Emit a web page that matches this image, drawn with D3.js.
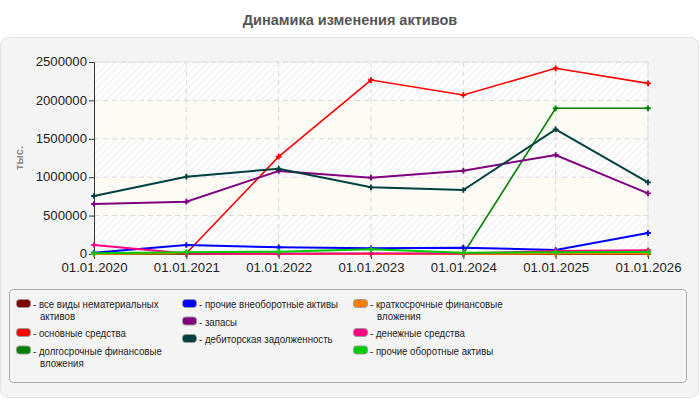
<!DOCTYPE html>
<html>
<head>
<meta charset="utf-8">
<script src="https://cdn.jsdelivr.net/npm/d3@7"></script>
<style>
    body{ margin: 0; background: #fff; }
    svg text{ font-family: "Liberation Sans", Arial, sans-serif; }
</style>
</head>
<body>
<svg id="chart" width="700" height="400"></svg>
<script>
// dates on x axis
const dates = ["01.01.2020", "01.01.2021", "01.01.2022", "01.01.2023", "01.01.2024", "01.01.2025", "01.01.2026"];
const yTicks = [0, 500000, 1000000, 1500000, 2000000, 2500000];

// series (thousands)
const intangible = [0, 0, 0, 0, 0, 0, 0];
const fixedAssets = [15000, 10000, 1267000, 2265000, 2070000, 2418000, 2222000];
const longInvest = [5000, 5000, 5000, 5000, 5000, 1897000, 1897000];
const otherNonCurrent = [17000, 117000, 87000, 74000, 82000, 52000, 273000];
const inventory = [651000, 681000, 1081000, 994000, 1085000, 1289000, 790000];
const receivables = [755000, 1007000, 1111000, 868000, 833000, 1623000, 933000];
const shortInvest = [0, 10000, 0, 0, 0, 5000, 5000];
const cash = [117000, 5000, 3000, 5000, 5000, 39000, 48000];
const otherCurrent = [10000, 22000, 30000, 61000, 15000, 22000, 25000];

const seriesNames = [
    "все виды нематериальных активов",
    "основные средства",
    "долгосрочные финансовые вложения",
    "прочие внеоборотные активы",
    "запасы",
    "дебиторская задолженность",
    "краткосрочные финансовые вложения",
    "денежные средства",
    "прочие оборотные активы"
];
const seriesColors = ["#800000", "#ff0000", "#008000", "#0000ff", "#800080", "#004040", "#ff8000", "#ff0080", "#00cc00"];
const seriesValues = [intangible, fixedAssets, longInvest, otherNonCurrent, inventory, receivables, shortInvest, cash, otherCurrent];

const svg = d3.select("#chart");
const margin = {left: 94, right: 52, top: 62, bottom: 146};
const W = 700, H = 400;
const plotW = W - margin.left - margin.right;
const plotH = H - margin.top - margin.bottom;

// title
svg.append("text").attr("x", 350).attr("y", 25).attr("text-anchor", "middle")
    .attr("font-size", 14.5).attr("font-weight", "bold").attr("fill", "#555")
    .text("Динамика изменения активов");

// outer panel
svg.append("rect").attr("x", 0.5).attr("y", 37.5).attr("width", 698).attr("height", 360)
    .attr("rx", 8).attr("fill", "#f4f4f4").attr("stroke", "#e2e2e2");

const defs = svg.append("defs");
const pat = defs.append("pattern").attr("id", "hatch").attr("patternUnits", "userSpaceOnUse")
    .attr("width", 5).attr("height", 5).attr("patternTransform", "rotate(45)");
pat.append("rect").attr("width", 5).attr("height", 5).attr("fill", "#ffffff");
pat.append("line").attr("x1", 0).attr("y1", 0).attr("x2", 0).attr("y2", 5)
    .attr("stroke", "#e6e6e6").attr("stroke-width", 1.5);

const x = d3.scalePoint().domain(dates).range([0, plotW]);
const y = d3.scaleLinear().domain([0, 2500000]).range([plotH, 0]);

const g = svg.append("g").attr("transform", `translate(${margin.left},${margin.top})`);

// alternating bands
d3.pairs(yTicks).forEach(([a, b], i) => {
    g.append("rect").attr("x", 0).attr("width", plotW)
        .attr("y", y(b)).attr("height", y(a) - y(b))
        .attr("fill", i % 2 === 0 ? "url(#hatch)" : "#fcfcf5");
});

// grid
g.append("g").selectAll("line").data(yTicks.slice(1)).join("line")
    .attr("x1", 0).attr("x2", plotW).attr("y1", d => y(d)).attr("y2", d => y(d))
    .attr("stroke", "#d8d8d8").attr("stroke-dasharray", "5,4");
g.append("g").selectAll("line").data(dates.slice(1)).join("line")
    .attr("x1", d => x(d)).attr("x2", d => x(d)).attr("y1", 0).attr("y2", plotH)
    .attr("stroke", "#d8d8d8").attr("stroke-dasharray", "5,4");
g.append("line").attr("x1", plotW).attr("x2", plotW).attr("y1", 0).attr("y2", plotH)
    .attr("stroke", "#e2e2e2");
g.append("line").attr("x1", 0).attr("x2", plotW).attr("y1", 0).attr("y2", 0)
    .attr("stroke", "#e2e2e2");

// axes
const yAxis = g.append("g").call(d3.axisLeft(y).tickValues(yTicks).tickSize(5).tickFormat(d3.format("d")));
const xAxis = g.append("g").attr("transform", `translate(0,${plotH})`)
    .call(d3.axisBottom(x).tickSize(5));
[yAxis, xAxis].forEach(ax => {
    ax.select(".domain").attr("stroke", "#333");
    ax.selectAll(".tick line").attr("stroke", "#333");
    ax.selectAll(".tick text").attr("font-size", 13.2).attr("fill", "#222")
        .attr("font-family", "Liberation Sans, Arial, sans-serif");
});
yAxis.selectAll(".tick text").attr("x", -7).attr("dy", "0.28em");
xAxis.selectAll(".tick text").attr("y", 9);

svg.append("text").attr("transform", "translate(23,158) rotate(-90)")
    .attr("text-anchor", "middle").attr("font-size", 11).attr("font-weight", "bold")
    .attr("fill", "#888").text("тыс.");

// lines
const line = d3.line().x((d, i) => x(dates[i])).y(d => y(d));
seriesValues.forEach((vals, si) => {
    g.append("path").datum(vals).attr("d", line).attr("fill", "none")
        .attr("stroke", seriesColors[si]).attr("stroke-width", si === 1 || si === 2 ? 1.6 : 2);
    g.append("g").selectAll("path").data(vals).join("path")
        .attr("transform", (d, i) => `translate(${x(dates[i])},${y(d)})`)
        .attr("d", d3.symbol(d3.symbolCross, 18))
        .attr("fill", seriesColors[si]);
});

// legend
svg.append("rect").attr("x", 9.5).attr("y", 289.5).attr("width", 677).attr("height", 93)
    .attr("rx", 4).attr("fill", "#f4f4f4").attr("stroke", "#aaa");

const legendCols = [[0, 1, 2], [3, 4, 5], [6, 7, 8]];
const colX = [16, 182, 353];
const wrapAt = {0: ["все виды нематериальных", "активов"],
    2: ["долгосрочные финансовые", "вложения"],
    6: ["краткосрочные финансовые", "вложения"]};
legendCols.forEach((col, ci) => {
    let cy = 304;
    col.forEach(si => {
        const lines = wrapAt[si] || [seriesNames[si]];
        const item = svg.append("g").attr("transform", `translate(${colX[ci]},${cy})`);
        item.append("rect").attr("x", 0.5).attr("y", -4.5).attr("width", 14).attr("height", 8)
            .attr("rx", 3).attr("fill", seriesColors[si]).attr("stroke", "#999");
        // condensed look: squeeze text horizontally
        lines.forEach((ln, li) => {
            item.append("g").attr("transform", `translate(${li === 0 ? 17 : 24},${4 + li * 12}) scale(0.84,1)`)
                .append("text").attr("font-size", 11.5).attr("fill", "#222")
                .text(li === 0 ? "- " + ln : ln);
        });
        cy += lines.length * 11.5 + 6;
    });
});
</script>
</body>
</html>
